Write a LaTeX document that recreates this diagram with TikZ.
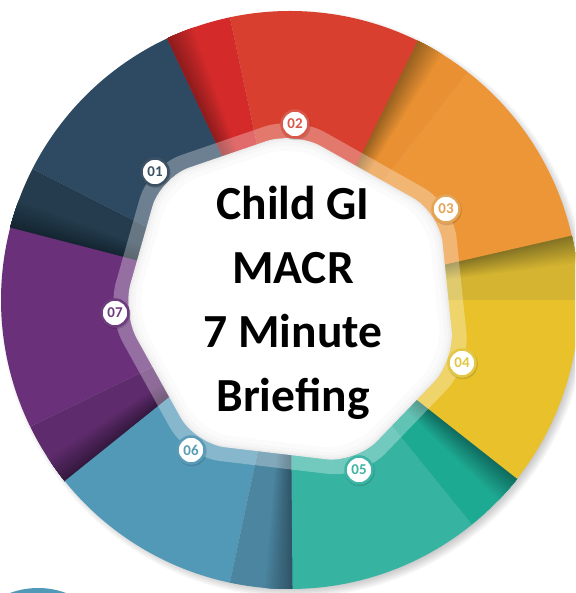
\documentclass[tikz,border=0pt]{standalone}
\usepackage{fontspec}
\setmainfont{Carlito}
\usetikzlibrary{calc}
\definecolor{navyM}{HTML}{2E4A62}
\definecolor{navyS}{HTML}{243C4E}
\definecolor{navyD}{HTML}{0E1A24}
\definecolor{redM}{HTML}{D83F2F}
\definecolor{redS}{HTML}{D42B2A}
\definecolor{redD}{HTML}{6E1416}
\definecolor{orgM}{HTML}{EC9638}
\definecolor{orgS}{HTML}{E99032}
\definecolor{orgD}{HTML}{6E4A18}
\definecolor{yelM}{HTML}{E9C12B}
\definecolor{yelS}{HTML}{D4B430}
\definecolor{yelD}{HTML}{5E5420}
\definecolor{tealM}{HTML}{36B3A1}
\definecolor{tealS}{HTML}{1DAA93}
\definecolor{tealD}{HTML}{0B4E46}
\definecolor{bluM}{HTML}{5299B7}
\definecolor{bluS}{HTML}{4B859F}
\definecolor{bluD}{HTML}{223C4C}
\definecolor{purM}{HTML}{6A317A}
\definecolor{purS}{HTML}{5E2B6C}
\definecolor{purD}{HTML}{22102A}
\definecolor{lab1}{HTML}{3C5064}
\definecolor{lab2}{HTML}{D8584A}
\definecolor{lab3}{HTML}{E3A456}
\definecolor{lab4}{HTML}{E2C744}
\definecolor{lab5}{HTML}{3DB4A4}
\definecolor{lab6}{HTML}{5A9CB8}
\definecolor{lab7}{HTML}{6E3C7E}
\def\wR{289pt}
\newcommand\wheelseg[6]{%
  \fill[#4] (0,0) -- (#1:\wR) arc[start angle=#1,end angle=#3,radius=\wR] -- cycle;
  \fill[#5] (0,0) -- (#3:\wR) arc[start angle=#3,end angle=#2,radius=\wR] -- cycle;
  \foreach \k in {0,...,11}{%
    \pgfmathsetmacro\wa{#2-6+0.5*\k}%
    \pgfmathtruncatemacro\wp{6*\k}%
    \fill[#6!\wp!#5] (0,0) -- (\wa:\wR) arc[start angle=\wa,end angle=#2,radius=\wR] -- cycle;
  }%
}
\begin{document}
\begin{tikzpicture}[x=1pt,y=1pt,
  lab/.style={circle,draw=#1,line width=2.5pt,fill=white,inner sep=0pt,
    minimum size=27pt,text=#1,font=\fontsize{15}{15}\selectfont\bfseries},
  labshadow/.style={fill=black,opacity=0.12},
  title/.style={anchor=base,font=\fontsize{47.5}{57}\selectfont\bfseries,text=black}]
\clip (0,0) rectangle (575,593);
\fill[white] (0,0) rectangle (575,593);
% partial circle at bottom left
\fill[bluM] (38,-76) circle[radius=81pt];
% soft shadow of the wheel
\foreach \rr in {283,284.5,...,294}
  \fill[black,opacity=0.03] (294,289) circle[radius=\rr pt];
% wheel segments
\begin{scope}[shift={(290,293)}]
  \wheelseg{115.1}{165.5}{153}{navyM}{navyS}{navyD}
  \wheelseg{165.5}{218.8}{206}{purM}{purS}{purD}
  \wheelseg{218.8}{270.5}{258}{bluM}{bluS}{bluD}
  \wheelseg{270.5}{321.8}{309}{tealM}{tealS}{tealD}
  \wheelseg{321.8}{372.9}{360}{yelM}{yelS}{yelD}
  \wheelseg{12.9}{63.8}{52}{orgM}{orgS}{orgD}
  \wheelseg{63.8}{115.1}{102}{redM}{redS}{redD}
\end{scope}
% heptagon
\coordinate (hc) at (289,293);
\coordinate (p1) at (155,421);
\coordinate (p2) at (295,469);
\coordinate (p3) at (446,384);
\coordinate (p4) at (462,230);
\coordinate (p5) at (359,123);
\coordinate (p6) at (191,143);
\coordinate (p7) at (115,280);
\draw[white,opacity=0.3,line width=15pt,rounded corners=30pt]
  ($(p1)!0.5!(p2)$) -- (p2) -- (p3) -- (p4) -- (p5) -- (p6) -- (p7) -- (p1) -- cycle;
\foreach \s/\c in {0.958/gray!16,0.948/gray!10,0.935/gray!6,0.915/gray!3,0.885/white}{
  \fill[\c,rounded corners=30pt]
    ($($(hc)!\s!(p1)$)!0.5!($(hc)!\s!(p2)$)$) -- ($(hc)!\s!(p2)$) -- ($(hc)!\s!(p3)$)
    -- ($(hc)!\s!(p4)$) -- ($(hc)!\s!(p5)$) -- ($(hc)!\s!(p6)$)
    -- ($(hc)!\s!(p7)$) -- ($(hc)!\s!(p1)$) -- cycle;
}
% number labels
\foreach \i in {1,...,7}
  \fill[labshadow] ($(p\i)+(0.8,-1.2)$) circle[radius=15pt];
\node[lab=lab1] (n1) at (p1) {01};
\node[lab=lab2] (n2) at (p2) {02};
\node[lab=lab3] (n3) at (p3) {03};
\node[lab=lab4] (n4) at (p4) {04};
\node[lab=lab5] (n5) at (p5) {05};
\node[lab=lab6] (n6) at (p6) {06};
\node[lab=lab7] (n7) at (p7) {07};
% title
\node[title] (t1) at (293,373) {Child GI};
\node[title] (t2) at (293,309) {MACR};
\node[title] (t3) at (293,245) {7 Minute};
\node[title] (t4) at (293,181) {Briefing};
\end{tikzpicture}
\end{document}
